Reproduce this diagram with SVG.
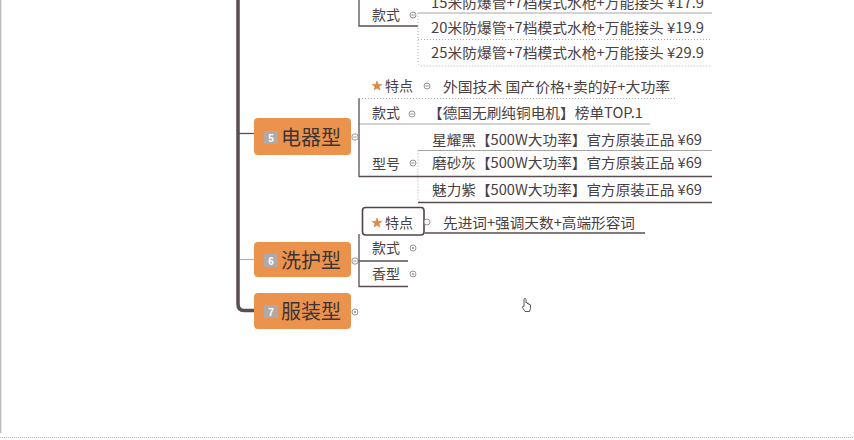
<svg xmlns="http://www.w3.org/2000/svg" width="854" height="440" viewBox="0 0 854 440">
  <defs>
    <style>
      .t { font-family: "Noto Sans CJK SC", "Liberation Sans", sans-serif; font-size: 14px; fill: #4a4042; }
      .nt { font-family: "Noto Sans CJK SC", "Liberation Sans", sans-serif; font-size: 20px; fill: #3d3436; }
      .node { fill: #eb934c; }
      .badge { fill: #b0a9a9; }
      .bn { font-family: "Liberation Sans", sans-serif; font-size: 10px; font-weight: bold; fill: #ffffff; text-anchor: middle; }
      .dk { stroke: #5b4e51; stroke-width: 1.3; fill: none; }
      .gr { stroke: #a8a4a4; stroke-width: 1; fill: none; }
      .dot { stroke: #aaaaaa; stroke-width: 1; fill: none; stroke-dasharray: 1 2; }
      .tog { fill: #ffffff; stroke: #8c8485; stroke-width: 0.9; }
      .tm { stroke: #8c8485; stroke-width: 0.9; }
      .star { fill: #e8883a; stroke: #c96d26; stroke-width: 0.5; }
    </style>
    <polygon id="star" class="star" points="0,-5 1.2,-1.6 4.8,-1.5 1.9,0.6 2.9,4 0,2 -2.9,4 -1.9,0.6 -4.8,-1.5 -1.2,-1.6"/>
  </defs>

  <rect width="854" height="440" fill="#ffffff"/>
  <!-- canvas frame -->
  <line x1="0.7" y1="0" x2="0.7" y2="433" stroke="#bdbdbd" stroke-width="1.4"/>
  <line x1="0" y1="437.5" x2="854" y2="437.5" stroke="#b5b5b5" stroke-width="1" stroke-dasharray="1 1"/>

  <!-- connectors -->
  <g id="connectors">
    <path d="M238,0 V304 Q238,310.5 244,310.5 H254" stroke="#5b4e51" stroke-width="3.5" fill="none"/>
    <path d="M239,133.5 H254" class="dk"/>
    <path d="M240,259.5 H254" stroke="#b7b2b2" stroke-width="1.2" fill="none"/>

    <!-- first branch (top, partly off-canvas) -->
    <path d="M359,0 V26 H418" class="dk"/>
    <path d="M418,13 H712" class="gr"/>
    <path d="M418,13 V62 Q418,66 422,66 H712" class="dot"/>
    <path d="M418,39.5 H712" class="dot"/>

    <!-- 电器型 branch -->
    <path d="M358.5,137 H359.5"/>
    <path d="M359,98.5 H675" class="dot"/>
    <path d="M359,124 H650" class="gr"/>
    <path d="M359,98.5 V176.5 H712" class="dk"/>
    <path d="M418,150.5 H712" class="gr"/>
    <path d="M418,150.5 V198 Q418,202 422,202" class="dot"/>
    <path d="M418,202.5 H712" class="dk"/>

    <!-- 洗护型 branch -->
    <path d="M425,233 H645" class="dk"/>
    <path d="M359,234 V286.5 H408" class="dk"/>
    <path d="M358,261 H408" class="dk"/>
  </g>

  <!-- top branch leaves -->
  <g id="n-kuanshi-top">
    <text class="t" x="372" y="20">款式</text>
    <circle class="tog" cx="413" cy="15" r="3"/><line class="tm" x1="411.3" y1="15" x2="414.7" y2="15"/>
  </g>
  <g id="n-15m"><text class="t" x="431" y="8" textLength="273" lengthAdjust="spacingAndGlyphs">15米防爆管+7档模式水枪+万能接头 ¥17.9</text></g>
  <g id="n-20m"><text class="t" x="431" y="33" textLength="273" lengthAdjust="spacingAndGlyphs">20米防爆管+7档模式水枪+万能接头 ¥19.9</text></g>
  <g id="n-25m"><text class="t" x="431" y="58" textLength="273" lengthAdjust="spacingAndGlyphs">25米防爆管+7档模式水枪+万能接头 ¥29.9</text></g>

  <!-- 电器型 -->
  <g id="n-dianqi">
    <rect class="node" x="254" y="118" width="97" height="37" rx="4"/>
    <rect class="badge" x="264" y="131" width="14" height="13"/>
    <text class="bn" x="271" y="141.5">5</text>
    <text class="nt" x="281" y="144.5" textLength="60" lengthAdjust="spacingAndGlyphs">电器型</text>
    <circle class="tog" cx="355" cy="137" r="3.2"/><line class="tm" x1="353.3" y1="137" x2="356.7" y2="137"/>
  </g>
  <g id="n-tedian-1">
    <use href="#star" x="377" y="86"/>
    <text class="t" x="385" y="91">特点</text>
    <circle class="tog" cx="427" cy="86" r="3"/><line class="tm" x1="425.3" y1="86" x2="428.7" y2="86"/>
    <text class="t" x="443" y="92" textLength="227" lengthAdjust="spacingAndGlyphs">外国技术 国产价格+卖的好+大功率</text>
  </g>
  <g id="n-kuanshi-1">
    <text class="t" x="372" y="118">款式</text>
    <circle class="tog" cx="412" cy="114" r="3"/><line class="tm" x1="410.3" y1="114" x2="413.7" y2="114"/>
    <text class="t" x="428" y="118" textLength="215" lengthAdjust="spacingAndGlyphs">【德国无刷纯铜电机】榜单TOP.1</text>
  </g>
  <g id="n-xinghao">
    <text class="t" x="372" y="169">型号</text>
    <circle class="tog" cx="413" cy="163" r="3"/><line class="tm" x1="411.3" y1="163" x2="414.7" y2="163"/>
  </g>
  <g id="n-xingyaohei"><text class="t" x="432" y="145" textLength="270" lengthAdjust="spacingAndGlyphs">星耀黑【500W大功率】官方原装正品 ¥69</text></g>
  <g id="n-moshahui"><text class="t" x="432" y="168" textLength="270" lengthAdjust="spacingAndGlyphs">磨砂灰【500W大功率】官方原装正品 ¥69</text></g>
  <g id="n-meilizi"><text class="t" x="432" y="195" textLength="270" lengthAdjust="spacingAndGlyphs">魅力紫【500W大功率】官方原装正品 ¥69</text></g>

  <!-- 洗护型 -->
  <g id="n-xihu">
    <rect class="node" x="254" y="242" width="97" height="35" rx="4"/>
    <rect class="badge" x="264" y="254" width="14" height="13"/>
    <text class="bn" x="271" y="264.5">6</text>
    <text class="nt" x="281" y="268" textLength="60" lengthAdjust="spacingAndGlyphs">洗护型</text>
    <circle class="tog" cx="355" cy="261" r="3.2"/><line class="tm" x1="353.3" y1="261" x2="356.7" y2="261"/>
  </g>
  <g id="n-tedian-2">
    <rect x="362.5" y="207.5" width="61.5" height="27.5" rx="3" fill="#ffffff" stroke="#4f4447" stroke-width="1.6"/>
    <use href="#star" x="377" y="223"/>
    <text class="t" x="385" y="228">特点</text>
    <circle class="tog" cx="427" cy="222" r="3"/>
    <text class="t" x="443" y="228" textLength="192" lengthAdjust="spacingAndGlyphs">先进词+强调天数+高端形容词</text>
  </g>
  <g id="n-kuanshi-2">
    <text class="t" x="372" y="253">款式</text>
    <circle class="tog" cx="413" cy="248" r="3"/><circle cx="413" cy="248" r="0.9" fill="#8c8485"/>
  </g>
  <g id="n-xiangxing">
    <text class="t" x="372" y="279">香型</text>
    <circle class="tog" cx="413" cy="274" r="3"/><circle cx="413" cy="274" r="0.9" fill="#8c8485"/>
  </g>

  <!-- 服装型 -->
  <g id="n-fuzhuang">
    <rect class="node" x="254" y="293" width="97" height="36" rx="4"/>
    <rect class="badge" x="264" y="305" width="14" height="13"/>
    <text class="bn" x="271" y="315.5">7</text>
    <text class="nt" x="281" y="319" textLength="60" lengthAdjust="spacingAndGlyphs">服装型</text>
    <circle class="tog" cx="355" cy="312" r="3"/><circle cx="355" cy="312" r="0.9" fill="#8c8485"/>
  </g>

  <!-- pointer -->
  <path d="M524,305 V299.5 a1,1 0 0 1 2,0 V303 a0.8,0.8 0 0 1 1.5,0 V304 a0.8,0.8 0 0 1 1.5,0 V305 a0.8,0.8 0 0 1 1.5,0 V308.5 L529.5,311.5 H525 L522.5,307.5 a0.8,0.8 0 0 1 1.5,-0.8 Z" fill="#ffffff" stroke="#333333" stroke-width="0.8"/>
</svg>
